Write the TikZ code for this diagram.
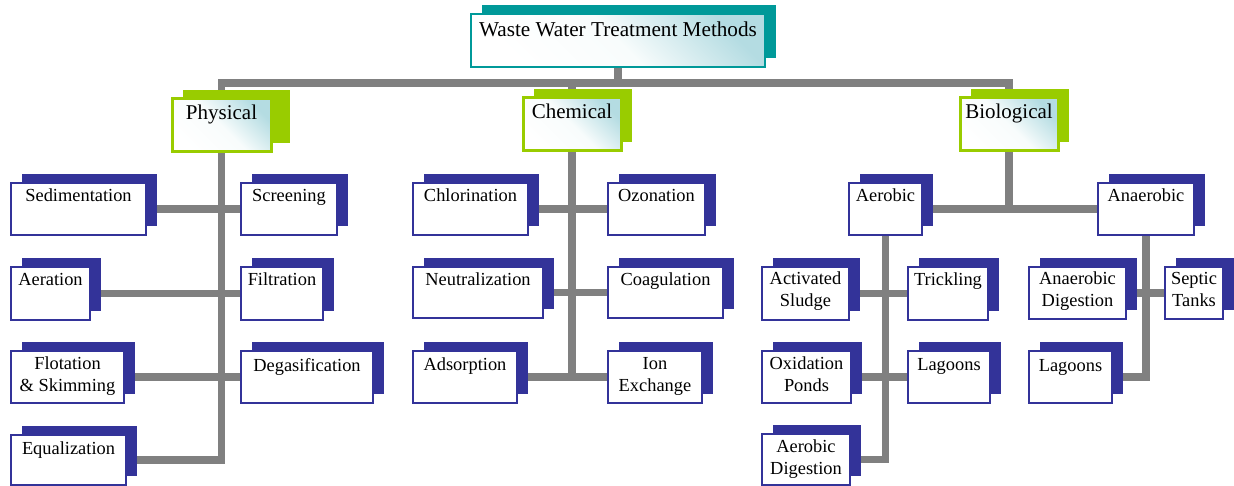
\documentclass[tikz,border=0pt]{standalone}
\usepackage{fontspec}
\setmainfont{Liberation Serif}
\usetikzlibrary{calc}
\definecolor{navy}{RGB}{51,51,153}
\definecolor{limeg}{RGB}{153,204,0}
\definecolor{tealb}{RGB}{0,153,153}
\definecolor{shadeA}{RGB}{180,220,226}
\definecolor{shadeB}{RGB}{248,252,252}
\definecolor{conngray}{RGB}{128,128,128}
\pgfdeclarelayer{bg}
\pgfsetlayers{bg,main}
\tikzset{
  gradfill/.style={bottom color=white, top color=shadeA, middle color=shadeB, shading angle=-45},
  leafbox/.style={draw=navy, line width=2.5pt, fill=white, inner sep=0pt, outer sep=0pt},
  leafshadow/.style={fill=navy},
  leaftext/.style={font=\fontsize{18.4}{22}\selectfont, inner sep=0pt},
  catbox/.style={draw=limeg, line width=3pt, inner sep=0pt, outer sep=0pt, gradfill},
  catshadow/.style={fill=limeg},
  cattext/.style={font=\fontsize{21}{25}\selectfont, inner sep=0pt},
  titlebox/.style={draw=tealb, line width=2.5pt, inner sep=0pt, outer sep=0pt, gradfill},
  titleshadow/.style={fill=tealb},
  titletext/.style={font=\fontsize{21.2}{25}\selectfont, inner sep=0pt},
  conn/.style={draw=conngray, line width=7.5pt},
}
% #1 kind, #2 name, #3 x1, #4 y1, #5 x2, #6 y2, #7 baseline offset, #8 text, #9 extra shadow width
\newcommand\mkbox[9]{%
  \fill[#1shadow] (#3+11,#4-9) rectangle (#5+11+#9,#6-9);
  \node[#1box, minimum width={#5-#3}, minimum height={#6-#4}] (#2) at ({(#3+#5)/2},{(#4+#6)/2}) {};
  \node[#1text, anchor=base] (#2-t) at ({(#3+#5)/2},{#4+#7}) {#8};}
\newcommand\ml[1]{\begin{tabular}[t]{@{}c@{}}#1\end{tabular}}
\begin{document}
\begin{tikzpicture}[x=1pt,y=-1pt]
\useasboundingbox (0,0) rectangle (1234,486);
\coordinate (bar) at (618,83);
% root and categories
\mkbox{title}{root}{471}{14}{765}{67}{23}{Waste Water Treatment Methods}{0}
\mkbox{cat}{phys}{172}{99}{271}{152}{21}{Physical}{8}
\mkbox{cat}{chem}{523}{98}{621}{151}{21}{Chemical}{0}
\mkbox{cat}{bio}{960}{98}{1058}{151}{21}{Biological}{0}
% physical
\mkbox{leaf}{sed}{11}{183}{146}{235}{19}{Sedimentation}{0}
\mkbox{leaf}{scr}{241}{183}{337}{235}{19}{Screening}{0}
\mkbox{leaf}{aera}{11}{267}{90}{320}{19}{Aeration}{0}
\mkbox{leaf}{filt}{241}{267}{323}{320}{19}{Filtration}{0}
\mkbox{leaf}{flot}{11}{351}{124}{403}{18}{\ml{Flotation\\\& Skimming}}{0}
\mkbox{leaf}{degas}{241}{351}{373}{403}{20}{Degasification}{0}
\mkbox{leaf}{equal}{11}{435}{126}{485}{19}{Equalization}{0}
% chemical
\mkbox{leaf}{chlor}{413}{183}{528}{235}{19}{Chlorination}{0}
\mkbox{leaf}{ozon}{608}{183}{705}{235}{19}{Ozonation}{0}
\mkbox{leaf}{neut}{413}{267}{543}{318}{19}{Neutralization}{0}
\mkbox{leaf}{coag}{608}{267}{723}{318}{19}{Coagulation}{0}
\mkbox{leaf}{ads}{413}{351}{517}{403}{19}{Adsorption}{0}
\mkbox{leaf}{ion}{608}{351}{702}{403}{18}{\ml{Ion\\Exchange}}{0}
% biological
\mkbox{leaf}{aer}{849}{183}{922}{235}{19}{Aerobic}{0}
\mkbox{leaf}{anaer}{1098}{183}{1194}{235}{19}{Anaerobic}{0}
\mkbox{leaf}{act}{762}{267}{849}{320}{18}{\ml{Activated\\Sludge}}{0}
\mkbox{leaf}{trick}{908}{267}{988}{320}{19}{Trickling}{0}
\mkbox{leaf}{oxi}{762}{351}{851}{403}{18}{\ml{Oxidation\\Ponds}}{0}
\mkbox{leaf}{laga}{908}{351}{990}{403}{19}{Lagoons}{0}
\mkbox{leaf}{aerd}{762}{434}{850}{485}{18}{\ml{Aerobic\\Digestion}}{0}
\mkbox{leaf}{andig}{1029}{267}{1126}{319}{18}{\ml{Anaerobic\\Digestion}}{0}
\mkbox{leaf}{sept}{1165}{267}{1223}{319}{18}{\ml{Septic\\Tanks}}{0}
\mkbox{leaf}{lagb}{1029}{351}{1112}{403}{20}{Lagoons}{0}
% connectors
\begin{pgfonlayer}{bg}
\draw[conn] (root.south) -- (root.south |- bar);
\draw[conn] (phys.north) -- (phys.north |- bar) -- (bio.north |- bar) -- (bio.north);
\draw[conn] (chem.north |- bar) -- (chem.north);
\draw[conn] (phys.south) -- (phys.south |- equal.east) -- (equal.east);
\draw[conn] (sed.east) -- (scr.west);
\draw[conn] (aera.east) -- (filt.west);
\draw[conn] (flot.east) -- (degas.west);
\draw[conn] (chem.south) -- (chem.south |- ads.east);
\draw[conn] (chlor.east) -- (ozon.west);
\draw[conn] (neut.east) -- (coag.west);
\draw[conn] (ads.east) -- (ion.west);
\draw[conn] (bio.south) -- (bio.south |- aer.east);
\draw[conn] (aer.east) -- (anaer.west);
\draw[conn] (aer.south) -- (aer.south |- aerd.east) -- (aerd.east);
\draw[conn] (act.east) -- (trick.west);
\draw[conn] (oxi.east) -- (laga.west);
\draw[conn] (anaer.south) -- (anaer.south |- lagb.east) -- (lagb.east);
\draw[conn] (andig.east) -- (sept.west);
\end{pgfonlayer}
\end{tikzpicture}
\end{document}
